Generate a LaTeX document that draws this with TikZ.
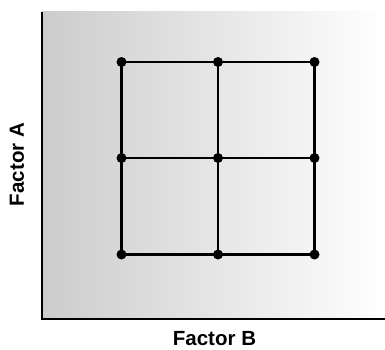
\documentclass[tikz,border=0pt]{standalone}
\usepackage{fontspec}
\setmainfont{Liberation Sans}
\begin{document}
\begin{tikzpicture}[x=1pt,y=-1pt,
  dot/.style={circle,fill=black,inner sep=0pt,minimum size=10pt},
  gridline/.style={line width=2.5pt},
  axisline/.style={line width=2.8pt},
  axlabel/.style={font=\fontsize{20.5}{24}\selectfont\bfseries,inner sep=0pt}]
\useasboundingbox (0,0) rectangle (385,349);
\shade[left color=black!20,right color=white] (42,11) rectangle (385,319);
\coordinate (top) at (42,11.5);
\coordinate (corner) at (42,319);
\coordinate (right) at (385,319);
\draw[axisline] (top) -- (corner) -- (right);
% grid nodes
\foreach \i/\x in {1/121.5,2/218,3/314.5}{
  \foreach \j/\y in {1/62,2/158,3/254.5}{
    \coordinate (p\i\j) at (\x,\y);
  }
}
\foreach \j in {1,2,3}{
  \draw[gridline] (p1\j) -- (p2\j) -- (p3\j);
}
\foreach \i in {1,2,3}{
  \draw[gridline] (p\i1) -- (p\i2) -- (p\i3);
}
\foreach \i in {1,2,3}{
  \foreach \j in {1,2,3}{
    \node[dot] (d\i\j) at (p\i\j) {};
  }
}
\node[axlabel] (fb) at (214.5,339) {Factor B};
\node[axlabel,rotate=90] (fa) at (17,164.5) {Factor A};
\end{tikzpicture}
\end{document}
